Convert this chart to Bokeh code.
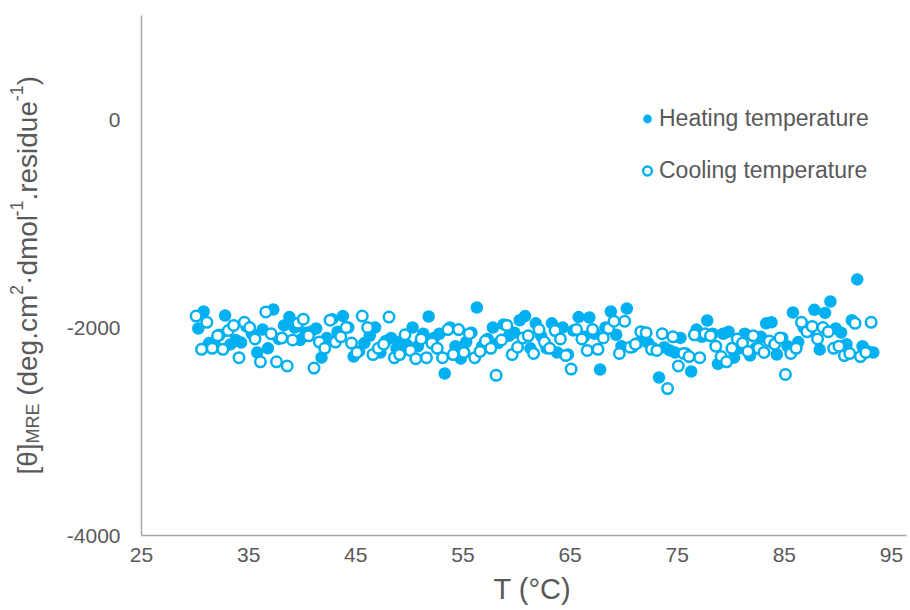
import math

from bokeh.embed import file_html
from bokeh.layouts import row
from bokeh.models import FixedTicker, Label, Legend, LegendItem, Range1d, Title
from bokeh.plotting import figure
from bokeh.resources import INLINE

# Mean residue ellipticity at 222 nm over a heating and a cooling ramp
heating_temp = [
    30.3, 30.8, 31.3, 31.8, 32.3, 32.8, 33.3, 33.8, 34.3, 34.8,
    35.3, 35.8, 36.3, 36.8, 37.3, 37.8, 38.3, 38.8, 39.3, 39.8,
    40.3, 40.8, 41.3, 41.8, 42.3, 42.8, 43.3, 43.8, 44.3, 44.8,
    45.3, 45.8, 46.3, 46.8, 47.3, 47.8, 48.3, 48.8, 49.3, 49.8,
    50.3, 50.8, 51.3, 51.8, 52.3, 52.8, 53.3, 53.8, 54.3, 54.8,
    55.3, 55.8, 56.3, 56.8, 57.3, 57.8, 58.3, 58.8, 59.3, 59.8,
    60.3, 60.8, 61.3, 61.8, 62.3, 62.8, 63.3, 63.8, 64.3, 64.8,
    65.3, 65.8, 66.3, 66.8, 67.3, 67.8, 68.3, 68.8, 69.3, 69.8,
    70.3, 70.8, 71.3, 71.8, 72.3, 72.8, 73.3, 73.8, 74.3, 74.8,
    75.3, 75.8, 76.3, 76.8, 77.3, 77.8, 78.3, 78.8, 79.3, 79.8,
    80.3, 80.8, 81.3, 81.8, 82.3, 82.8, 83.3, 83.8, 84.3, 84.8,
    85.3, 85.8, 86.3, 86.8, 87.3, 87.8, 88.3, 88.8, 89.3, 89.8,
    90.3, 90.8, 91.3, 91.8, 92.3, 92.8, 93.3,
]
heating_mre = [
    -2010, -1846, -2150, -2140, -2070, -1885, -2163, -2120, -2145, -1990,
    -2060, -2240, -2020, -2200, -1827, -2110, -1980, -1900, -2000, -2120,
    -2050, -2040, -2010, -2290, -2100, -1920, -2040, -1890, -2000, -2280,
    -2230, -2150, -2080, -2000, -2240, -2130, -2100, -2200, -2130, -2170,
    -2000, -2180, -2060, -1894, -2100, -2060, -2442, -2000, -2180, -2300,
    -2140, -2050, -1808, -2180, -2110, -2000, -2150, -1970, -2080, -2050,
    -1930, -1890, -2200, -1960, -2080, -2200, -1960, -2240, -2000, -2260,
    -2030, -1900, -2090, -1904, -2060, -2404, -2000, -1846, -2070, -2180,
    -1817, -2190, -2150, -2060, -2150, -2200, -2481, -2190, -2220, -2240,
    -2100, -2250, -2423, -2020, -2090, -1933, -2060, -2350, -2060, -2040,
    -2290, -2200, -2060, -2270, -2200, -2090, -1960, -1950, -2260, -2100,
    -2180, -1856, -2140, -2000, -2040, -1830, -2212, -1860, -1750, -2010,
    -2050, -2160, -1930, -1538, -2180, -2230, -2240,
]

cooling_temp = [
    30.1, 30.6, 31.1, 31.6, 32.1, 32.6, 33.1, 33.6, 34.1, 34.6,
    35.1, 35.6, 36.1, 36.6, 37.1, 37.6, 38.1, 38.6, 39.1, 39.6,
    40.1, 40.6, 41.1, 41.6, 42.1, 42.6, 43.1, 43.6, 44.1, 44.6,
    45.1, 45.6, 46.1, 46.6, 47.1, 47.6, 48.1, 48.6, 49.1, 49.6,
    50.1, 50.6, 51.1, 51.6, 52.1, 52.6, 53.1, 53.6, 54.1, 54.6,
    55.1, 55.6, 56.1, 56.6, 57.1, 57.6, 58.1, 58.6, 59.1, 59.6,
    60.1, 60.6, 61.1, 61.6, 62.1, 62.6, 63.1, 63.6, 64.1, 64.6,
    65.1, 65.6, 66.1, 66.6, 67.1, 67.6, 68.1, 68.6, 69.1, 69.6,
    70.1, 70.6, 71.1, 71.6, 72.1, 72.6, 73.1, 73.6, 74.1, 74.6,
    75.1, 75.6, 76.1, 76.6, 77.1, 77.6, 78.1, 78.6, 79.1, 79.6,
    80.1, 80.6, 81.1, 81.6, 82.1, 82.6, 83.1, 83.6, 84.1, 84.6,
    85.1, 85.6, 86.1, 86.6, 87.1, 87.6, 88.1, 88.6, 89.1, 89.6,
    90.1, 90.6, 91.1, 91.6, 92.1, 92.6, 93.1,
]
cooling_mre = [
    -1890, -2210, -1950, -2200, -2080, -2210, -2030, -1980, -2290, -1950,
    -2000, -2110, -2330, -1850, -2060, -2330, -2100, -2370, -2120, -1960,
    -1920, -2080, -2390, -2140, -2200, -1930, -2140, -2090, -2000, -2150,
    -2240, -1890, -2000, -2260, -2200, -2160, -1900, -2290, -2260, -2070,
    -2220, -2300, -2110, -2290, -2150, -2200, -2290, -2020, -2260, -2020,
    -2240, -2060, -2290, -2230, -2130, -2200, -2460, -2120, -1980, -2260,
    -2190, -2100, -2080, -2250, -2020, -2140, -2200, -2030, -2110, -2270,
    -2400, -2020, -2110, -2220, -2020, -2210, -2100, -2010, -1940, -2250,
    -1940, -2190, -2160, -2040, -2050, -2210, -2220, -2060, -2587, -2090,
    -2370, -2250, -2280, -2070, -2290, -2060, -2080, -2180, -2280, -2330,
    -2200, -2110, -2150, -2230, -2080, -2200, -2240, -2130, -2160, -2100,
    -2452, -2250, -2200, -1950, -2040, -1990, -2110, -2000, -2040, -2200,
    -2180, -2270, -2250, -1960, -2280, -2240, -1950,
]

x_ticks = [25, 35, 45, 55, 65, 75, 85, 95]
y_ticks = [-4000, -2000, 0]
y_tick_labels = ["-4000", "-2000", "0"]
series_names = ["Heating temperature", "Cooling temperature"]
x_title = "T (°C)"

BLUE = "#00B0F0"
TEXT = "#595959"
AXIS = "#A6A6A6"
FONT = "Liberation Sans"

HEIGHT = 610
BORDER_TOP, BORDER_BOTTOM = 15, 74

# ---- main scatter panel -------------------------------------------------
fig = figure(
    width=850, height=HEIGHT,
    output_backend="svg", toolbar_location=None,
    x_range=Range1d(25, 96.4), y_range=Range1d(-4000, 1000),
    min_border_left=81, min_border_right=4,
    min_border_top=BORDER_TOP, min_border_bottom=BORDER_BOTTOM,
)
fig.outline_line_color = None
fig.background_fill_color = "white"
fig.border_fill_color = "white"
fig.xgrid.visible = False
fig.ygrid.visible = False

fig.xaxis.ticker = FixedTicker(ticks=x_ticks)
fig.yaxis.ticker = FixedTicker(ticks=y_ticks)
fig.yaxis.major_label_overrides = dict(zip(y_ticks, y_tick_labels))
for ax in (fig.xaxis[0], fig.yaxis[0]):
    ax.axis_line_color = AXIS
    ax.axis_line_width = 1.5
    ax.major_tick_line_color = None
    ax.minor_tick_line_color = None
    ax.major_tick_in = 0
    ax.major_tick_out = 0
    ax.minor_tick_in = 0
    ax.minor_tick_out = 0
    ax.major_label_text_font = FONT
    ax.major_label_text_font_size = "21px"
    ax.major_label_text_color = TEXT
fig.xaxis.major_label_standoff = 12
fig.yaxis.major_label_standoff = 21

heat = fig.scatter(heating_temp, heating_mre, size=12.5,
                   fill_color=BLUE, line_color=None)
cool = fig.scatter(cooling_temp, cooling_mre, size=10.5,
                   fill_color="white", line_color=BLUE, line_width=2.5)

legend = Legend(
    items=[LegendItem(label=series_names[0], renderers=[heat]),
           LegendItem(label=series_names[1], renderers=[cool])],
    location=(495, 351), orientation="vertical",
    glyph_width=22, glyph_height=25, label_height=25, spacing=25,
    padding=0, margin=0, label_standoff=1,
    label_text_font=FONT, label_text_font_size="23px", label_text_color=TEXT,
    border_line_color=None, background_fill_alpha=0,
)
fig.add_layout(legend)

# x-axis title, set a little right of the frame centre
fig.add_layout(Title(text=x_title, align="left", offset=352, standoff=12,
                     text_font=FONT, text_font_size="29px",
                     text_font_style="normal", text_color=TEXT), "below")

# ---- y-axis title, assembled so the subscript and superscripts sit right --
ARIAL_EM = {
    "[": 0.278, "]": 0.278, "θ": 0.556, "M": 0.833, "R": 0.722, "E": 0.667,
    " ": 0.278, "(": 0.333, ")": 0.333, "d": 0.556, "e": 0.556, "g": 0.556,
    ".": 0.278, "·": 0.278, "c": 0.5, "m": 0.833, "2": 0.556, "o": 0.556,
    "l": 0.222, "-": 0.333, "1": 0.556, "r": 0.333, "s": 0.5, "i": 0.222,
    "u": 0.556,
}


def text_width(s, px):
    return sum(ARIAL_EM[ch] for ch in s) * px


BIG, SMALL = 28, 18
y_title_parts = [
    ("[θ]", BIG, 0), ("MRE", SMALL, 5), (" ", BIG, None), ("(deg.cm", BIG, 0),
    ("2", SMALL, -11), ("·dmol", BIG, 0), ("-1", SMALL, -11),
    (".residue", BIG, 0), ("-1", SMALL, -11), (")", BIG, 0),
]

# a bare panel whose frame lines up with the scatter frame; its data units
# are pixels, measured from the bottom of the panel
ypanel = figure(width=60, height=HEIGHT, output_backend="svg",
                toolbar_location=None, x_range=Range1d(0, 60),
                y_range=Range1d(BORDER_BOTTOM, HEIGHT - BORDER_TOP),
                x_axis_location=None, y_axis_location=None,
                min_border_left=0, min_border_right=0,
                min_border_top=BORDER_TOP, min_border_bottom=BORDER_BOTTOM)
ypanel.outline_line_color = None
ypanel.xgrid.visible = False
ypanel.ygrid.visible = False
ypanel.background_fill_color = "white"
ypanel.border_fill_color = "white"

baseline_x = 27
pos = HEIGHT - 475
for txt, px, shift in y_title_parts:
    if shift is not None:
        ypanel.add_layout(Label(
            x=baseline_x + shift, y=pos, text=txt, angle=math.pi / 2,
            text_align="left", text_baseline="alphabetic", text_font=FONT,
            text_font_size=f"{px}px", text_color=TEXT))
    pos += text_width(txt, px)

p = row(ypanel, fig, spacing=0)

open("out.html", "w").write(file_html(p, INLINE))
